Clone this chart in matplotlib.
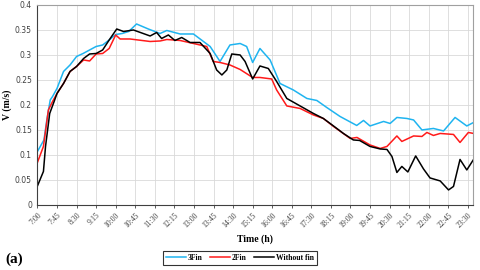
import matplotlib
matplotlib.use("Agg")
import matplotlib.pyplot as plt

# time in hours, velocity in m/s
t_3fin = [7.00, 7.25, 7.36, 7.49, 7.58, 7.75, 8.00, 8.25, 8.50, 8.75, 9.00, 9.25, 9.50, 9.75,
          10.00, 10.25, 10.50, 10.80, 11.25, 11.70, 11.96, 12.47, 12.98, 13.62, 14.00, 14.38,
          14.77, 15.02, 15.25, 15.53, 15.92, 16.30, 16.81, 17.33, 17.71, 18.09, 18.60, 19.24,
          19.50, 19.75, 20.27, 20.52, 20.78, 21.16, 21.42, 21.74, 22.18, 22.57, 23.01, 23.46, 23.72]
v_3fin = [0.107, 0.13, 0.17, 0.21, 0.217, 0.233, 0.267, 0.28, 0.297, 0.303, 0.31, 0.317, 0.32, 0.33,
          0.341, 0.343, 0.347, 0.362, 0.352, 0.343, 0.349, 0.342, 0.342, 0.317, 0.287, 0.32,
          0.323, 0.317, 0.285, 0.313, 0.29, 0.243, 0.23, 0.213, 0.209, 0.195, 0.177, 0.159,
          0.169, 0.158, 0.167, 0.163, 0.175, 0.173, 0.17, 0.15, 0.153, 0.148, 0.175, 0.158, 0.165]

t_2fin = [7.00, 7.23, 7.42, 7.58, 7.75, 8.00, 8.25, 8.50, 8.77, 9.00, 9.25, 9.50, 9.75, 10.00,
          10.17, 10.55, 11.32, 11.70, 11.96, 12.47, 12.98, 13.49, 13.74, 14.00, 14.38, 14.77,
          15.25, 15.53, 15.98, 16.17, 16.56, 17.07, 17.58, 17.96, 18.35, 18.99, 19.25, 19.75,
          20.14, 20.40, 20.78, 20.97, 21.42, 21.74, 21.93, 22.18, 22.44, 22.95, 23.20, 23.52, 23.72]
v_2fin = [0.085, 0.117, 0.19, 0.207, 0.223, 0.243, 0.267, 0.277, 0.29, 0.288, 0.302, 0.303, 0.313, 0.34,
          0.332, 0.332, 0.327, 0.328, 0.331, 0.329, 0.323, 0.317, 0.287, 0.285, 0.28, 0.271,
          0.255, 0.255, 0.252, 0.23, 0.198, 0.193, 0.18, 0.173, 0.157, 0.133, 0.135, 0.12,
          0.113, 0.117, 0.138, 0.127, 0.138, 0.137, 0.145, 0.139, 0.143, 0.141, 0.125, 0.145, 0.143]

t_nofin = [7.00, 7.23, 7.31, 7.47, 7.64, 7.75, 8.00, 8.25, 8.50, 8.77, 9.00, 9.25, 9.50, 9.75,
           10.04, 10.30, 10.68, 11.32, 11.57, 11.76, 12.02, 12.27, 12.53, 12.85, 13.23, 13.62,
           13.87, 14.07, 14.26, 14.45, 14.77, 14.96, 15.25, 15.53, 15.85, 16.17, 16.56, 17.07,
           17.58, 17.96, 18.35, 18.73, 19.11, 19.35, 19.75, 20.14, 20.40, 20.59, 20.78, 20.97,
           21.20, 21.50, 21.80, 22.05, 22.44, 22.76, 22.95, 23.20, 23.46, 23.72]
v_nofin = [0.038, 0.067, 0.117, 0.183, 0.207, 0.223, 0.243, 0.267, 0.277, 0.293, 0.302, 0.303, 0.31, 0.33,
           0.352, 0.347, 0.35, 0.338, 0.345, 0.333, 0.34, 0.329, 0.335, 0.325, 0.325, 0.303,
           0.27, 0.26, 0.27, 0.302, 0.30, 0.287, 0.252, 0.278, 0.273, 0.247, 0.213, 0.198,
           0.183, 0.173, 0.158, 0.143, 0.13, 0.129, 0.117, 0.112, 0.111, 0.097, 0.065, 0.077,
           0.066, 0.098, 0.072, 0.054, 0.048, 0.03, 0.037, 0.091, 0.07, 0.091]

tick_hours = [7 + 0.75 * i for i in range(23)]
tick_labels = ["%d:%02d" % (int(h), round((h % 1) * 60)) for h in tick_hours]

serif = "Liberation Serif"

fig = plt.figure(figsize=(4.8, 2.7), dpi=100)
ax = fig.add_axes([0.078, 0.241, 0.907, 0.7405])

ax.plot(t_3fin, v_3fin, color="#1fb4f0", lw=1.1, label="3Fin")
ax.plot(t_2fin, v_2fin, color="#ff1a1a", lw=1.1, label="2Fin")
ax.plot(t_nofin, v_nofin, color="black", lw=1.1, label="Without fin")

ax.set_xlim(7, 23.69)
ax.set_ylim(0, 0.4)
ax.set_yticks([0.05 * i for i in range(9)])
ax.set_yticklabels(["0", "0.05", "0.1", "0.15", "0.2", "0.25", "0.3", "0.35", "0.4"])
ax.set_xticks(tick_hours)
ax.set_xticklabels(tick_labels, rotation=45, ha="right", rotation_mode="anchor",
                   fontfamily=serif, fontsize=5.5)
ax.tick_params(axis="y", length=0, labelsize=5.5, colors="#404040", pad=4)
ax.tick_params(axis="x", length=2.5, width=0.6, pad=2, colors="#404040")

ax.grid(True, color="#d9d9d9", lw=0.6)
ax.set_axisbelow(True)
for s in ["top", "right"]:
    ax.spines[s].set_color("#a0a0a0")
    ax.spines[s].set_linewidth(0.8)
for s in ["left", "bottom"]:
    ax.spines[s].set_color("#404040")
    ax.spines[s].set_linewidth(0.8)

ax.set_xlabel("Time (h)", fontfamily=serif, fontweight="bold", fontsize=7, labelpad=4)
ax.set_ylabel("V (m/s)", fontfamily=serif, fontweight="bold", fontsize=7, labelpad=2)

fig.text(0.012, 0.025, "(a)", fontfamily=serif, fontweight="bold", fontsize=11)

leg = fig.legend(loc="center", bbox_to_anchor=(0.5, 0.045), ncol=3, frameon=True,
                 prop={"family": serif, "weight": "bold", "size": 5.5},
                 handlelength=2.6, handletextpad=0.3, columnspacing=0.9,
                 borderpad=0.35, fancybox=False)
leg.get_frame().set_edgecolor("black")
leg.get_frame().set_linewidth(0.8)

fig.savefig("out.png", dpi=100)
